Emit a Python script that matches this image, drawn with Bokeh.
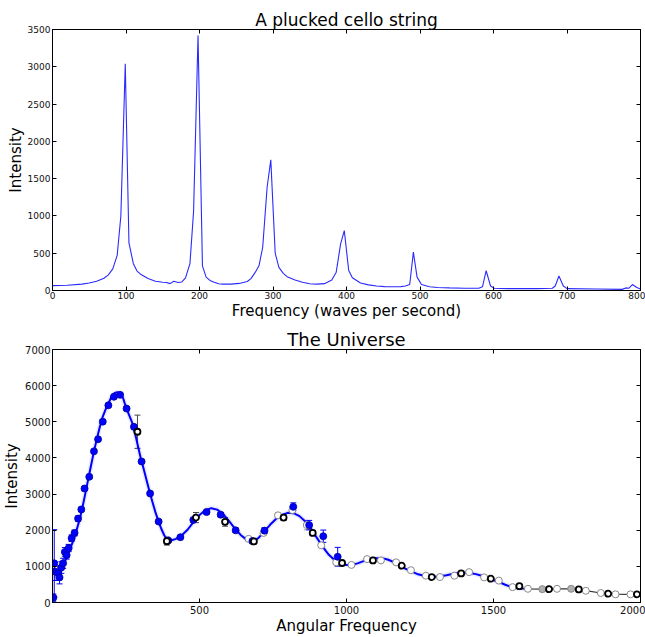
from bokeh.plotting import figure
from bokeh.models import FixedTicker, LinearAxis, ColumnDataSource, Whisker, TeeHead
from bokeh.layouts import column
from bokeh.embed import file_html
from bokeh.resources import INLINE

FONT = "DejaVu Sans"

# ---------------- data: cello spectrum ----------------
cello_freq = [0, 20, 40, 50, 60, 70, 76, 82, 88, 93, 99, 104, 110, 115, 121, 130, 140, 150, 155, 160,
              165, 171, 176, 181, 187, 192, 198, 204, 209, 215, 220, 226, 232, 243, 254, 265, 270, 276, 281, 286,
              292, 297, 303, 308, 314, 320, 330, 340, 350, 360, 370, 380, 386, 392, 397, 403, 408, 419, 430, 441,
              452, 463, 474, 480, 486, 491, 496, 502, 513, 524, 540, 560, 580, 585, 590, 596, 601, 620, 660, 680,
              684, 689, 695, 700, 740, 775, 780, 784, 789, 795, 800]
cello_intensity = [65, 70, 85, 100, 125, 165, 210, 290, 470, 1000, 3040, 640, 360, 260, 210, 160, 125, 110, 108, 92,
                   125, 108, 115, 170, 360, 1070, 3420, 330, 180, 130, 110, 90, 85, 85, 95, 120, 160, 246, 335, 580,
                   1385, 1752, 500, 310, 230, 180, 140, 110, 90, 85, 92, 140, 246, 626, 804, 268, 170, 100, 75, 60,
                   52, 50, 52, 60, 80, 514, 179, 80, 50, 40, 35, 30, 30, 50, 265, 60, 30, 25, 25, 30,
                   60, 195, 60, 25, 20, 15, 35, 30, 80, 40, 20]
cello_xticks = [0, 100, 200, 300, 400, 500, 600, 700, 800]
cello_yticks = [0, 500, 1000, 1500, 2000, 2500, 3000, 3500]

# ---------------- data: the universe ----------------
fit_x = [2, 10, 20, 30, 40, 50, 60, 70, 80, 90, 100, 110, 120, 130, 140, 150, 160, 170, 180, 190,
         200, 210, 220, 230, 240, 250, 260, 270, 280, 290, 300, 310, 320, 330, 340, 350, 360, 370, 380, 390,
         400, 420, 440, 460, 480, 500, 520, 540, 560, 580, 600, 620, 640, 660, 680, 700, 720, 740, 760, 780,
         800, 820, 840, 860, 880, 900, 920, 940, 960, 980, 1000, 1020, 1040, 1060, 1080, 1100, 1120, 1140, 1160, 1180,
         1200, 1220, 1240, 1260, 1280, 1300, 1320, 1340, 1360, 1380, 1400, 1420, 1440, 1460, 1480, 1500, 1520, 1540, 1560, 1580,
         1600, 1620]
fit_y = [900, 870, 880, 960, 1100, 1280, 1480, 1700, 1950, 2230, 2560, 2950, 3350, 3750, 4140, 4500, 4830, 5120, 5330, 5500,
         5680, 5790, 5820, 5790, 5660, 5400, 5200, 5000, 4700, 4350, 4000, 3700, 3380, 3070, 2780, 2500, 2260, 2040, 1860, 1750,
         1710, 1760, 1860, 2020, 2230, 2420, 2550, 2610, 2570, 2450, 2260, 2050, 1870, 1740, 1690, 1780, 1960, 2150, 2310, 2420,
         2480, 2470, 2390, 2240, 2040, 1780, 1530, 1320, 1170, 1080, 1040, 1040, 1090, 1150, 1200, 1225, 1225, 1190, 1120, 1030,
         940, 860, 790, 745, 720, 715, 725, 755, 790, 815, 825, 815, 785, 740, 680, 620, 560, 490, 430, 400,
         388, 382]

tail_x = [1600, 1617, 1666, 1716, 1764, 1790, 1814, 1865, 1890, 1915, 1966, 2000]
tail_y = [388, 379, 372, 375, 375, 365, 330, 262, 244, 230, 226, 226]

blue_x = [3, 6, 8, 19, 24, 30, 36, 42, 48, 55, 65, 75, 87, 98, 109, 125, 141, 155, 171, 190,
          209, 230, 252, 277, 303, 332, 361, 394, 435, 479, 524, 572, 623, 680, 721, 819, 873, 921, 970]
blue_y = [135, 1084, 858, 813, 695, 967, 1084, 1400, 1310, 1508, 1780, 1924, 2322, 2575, 3153, 3478, 4183, 4517, 5004, 5456,
          5691, 5745, 5366, 4860, 3902, 3017, 2240, 1716, 1807, 2285, 2502, 2430, 1996, 1700, 1987, 2647, 2141, 1834, 1265]
blue_err = [100, 930, 250, 200, 180, 160, 140, 120, 110, 100, 90, 80, 70, 60, 60, 50, 50, 50, 50, 50,
            50, 50, 50, 50, 50, 50, 40, 40, 40, 50, 50, 60, 60, 70, 80, 110, 130, 170, 260]

black_x = [289, 389, 488, 587, 685, 786, 885, 985, 1090, 1188, 1290, 1390, 1491, 1588, 1689, 1790, 1890, 1988]
black_y = [4724, 1698, 2349, 2231, 1689, 2349, 1924, 1093, 1165, 1020, 704, 804, 660, 452, 370, 361, 244, 226]
black_err = [460, 110, 140, 120, 60, 80, 70, 40, 30, 30, 30, 30, 30, 25, 25, 25, 20, 20]

white_x = [667, 718, 767, 816, 865, 914, 965, 1017, 1070, 1117, 1169, 1219, 1270, 1318, 1367, 1417, 1468, 1518, 1565, 1617,
           1716, 1814, 1865, 1915, 1966]
white_y = [1761, 1924, 2412, 2556, 2141, 1581, 1111, 1040, 1201, 1165, 1111, 894, 741, 704, 741, 840, 696, 606, 425, 379,
           379, 325, 262, 226, 226]
white_err = [40, 50, 60, 90, 130, 60, 40, 30, 30, 30, 30, 30, 30, 30, 30, 30, 30, 30, 20, 20,
             20, 20, 20, 20, 20]

grey_x = [1666, 1764]
grey_y = [370, 379]

uni_xticks = [500, 1000, 1500, 2000]
uni_yticks = [0, 1000, 2000, 3000, 4000, 5000, 6000, 7000]


def style(p, xticks, yticks, tick_px, xlabel, ylabel, label_px, title_px, ylabel_standoff, xtick_standoff):
    p.grid.visible = False
    p.outline_line_color = "black"
    p.outline_line_width = 1
    p.background_fill_color = "white"
    p.border_fill_color = "white"
    p.title.text_font = FONT
    p.title.text_font_size = title_px
    p.title.text_font_style = "normal"
    p.title.align = "center"
    p.title.text_color = "black"
    p.title.standoff = 0
    xa = p.below[0]
    ya = p.left[0]
    xa.ticker = FixedTicker(ticks=xticks)
    ya.ticker = FixedTicker(ticks=yticks)
    xa.axis_label = xlabel
    ya.axis_label = ylabel
    for ax in (xa, ya):
        ax.axis_label_text_font = FONT
        ax.axis_label_text_font_size = label_px
        ax.axis_label_text_font_style = "normal"
        ax.axis_label_text_color = "black"
        ax.major_label_text_font = FONT
        ax.major_label_text_font_size = tick_px
        ax.major_label_text_color = "#111111"
        ax.major_tick_in = 4
        ax.major_tick_out = 0
        ax.minor_tick_in = 0
        ax.minor_tick_out = 0
        ax.axis_line_color = "black"
        ax.major_tick_line_color = "black"
        ax.major_label_standoff = 2
    xa.major_label_standoff = xtick_standoff
    xa.axis_label_standoff = 0
    ya.axis_label_standoff = ylabel_standoff
    for loc, ticks in (("above", xticks), ("right", yticks)):
        ax = LinearAxis(ticker=FixedTicker(ticks=ticks),
                        major_label_text_font_size="1px", major_label_text_color=None,
                        major_label_standoff=0,
                        major_tick_in=4, major_tick_out=0, minor_tick_in=0, minor_tick_out=0,
                        axis_line_color="black", major_tick_line_color="black")
        p.add_layout(ax, loc)


# ---------------- top figure ----------------
p1 = figure(width=645, height=326, x_range=(0, 800), y_range=(0, 3500),
            title="A plucked cello string", toolbar_location=None, output_backend="svg",
            min_border_left=51, min_border_right=5, min_border_top=29, min_border_bottom=36)
p1.line(cello_freq, cello_intensity, line_color="#2a2aff", line_width=1.1)
style(p1, cello_xticks, cello_yticks, "9px", "Frequency (waves per second)", "Intensity", "15px", "17px", 0, 1)

# ---------------- bottom figure ----------------
p2 = figure(width=645, height=311, x_range=(0, 2000), y_range=(0, 7000),
            title="The Universe", toolbar_location=None, output_backend="svg",
            min_border_left=51, min_border_right=5, min_border_top=21, min_border_bottom=31)

p2.line(fit_x, fit_y, line_color="#4d4dff", line_width=5, line_alpha=0.12)
p2.line(fit_x, fit_y, line_color="#0000ff", line_width=2)
p2.line(tail_x, tail_y, line_color="#333333", line_width=1.2)


def add_err(p, xs, ys, errs, color):
    src = ColumnDataSource(data=dict(x=xs,
                                     lower=[y - e for y, e in zip(ys, errs)],
                                     upper=[y + e for y, e in zip(ys, errs)]))
    w = Whisker(source=src, base="x", lower="lower", upper="upper", dimension="height",
                line_color=color, line_width=1,
                upper_head=TeeHead(size=6, line_color=color, line_width=1),
                lower_head=TeeHead(size=6, line_color=color, line_width=1))
    p.add_layout(w)


add_err(p2, white_x, white_y, white_err, "#999999")
add_err(p2, blue_x, blue_y, blue_err, "#0000ff")
add_err(p2, black_x, black_y, black_err, "#444444")

p2.scatter(white_x, white_y, marker="circle", size=7, fill_color="white", line_color="#888888", line_width=1)
p2.scatter(grey_x, grey_y, marker="circle", size=7, fill_color="#b0b0b0", line_color="#888888", line_width=1)
p2.scatter(blue_x, blue_y, marker="circle", size=7, fill_color="#0000ff", line_color="#000099", line_width=0.8)
p2.scatter(black_x, black_y, marker="circle", size=6, fill_color="white", line_color="black", line_width=1.8)

style(p2, uni_xticks, uni_yticks, "10px", "Angular Frequency", "Intensity", "15px", "18px", 1, 3)

layout = column(p1, p2, spacing=0)
open("out.html", "w").write(file_html(layout, INLINE))
